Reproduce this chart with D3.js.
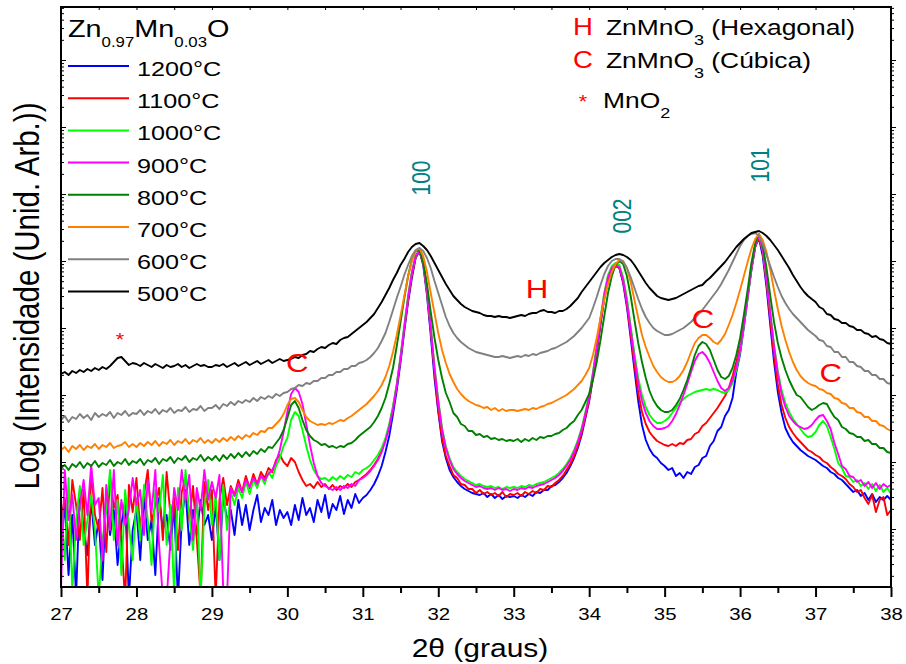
<!DOCTYPE html>
<html>
<head>
<meta charset="utf-8">
<script src="https://cdn.jsdelivr.net/npm/d3@7"></script>
<style>
  body { margin: 0; background: #fff; }
  svg { display: block; }
  text { font-family: 'Liberation Sans', Arial, sans-serif; }
</style>
</head>
<body>
<svg id="chart" width="906" height="664"></svg>
<script>
// 2θ sampling grid (degrees), 0.05° step from 27 to 38
const twoTheta = d3.range(221).map(i => +(27 + i * 0.05).toFixed(2));

// Log intensity (arbitrary units) for each calcination temperature
const s1200 = [
0.47,0.82,0.12,0.72,-0.09,0.97,0.57,0.32,0.87,0.42,0.67,0.07,0.92,0.52,0.77,0.22,0.62,0.87,-0.11,0.57,
0.77,0.27,0.92,0.47,0.67,0.12,0.89,0.57,0.72,0.37,0.82,-0.13,0.67,0.97,0.42,0.77,0.52,0.87,0.62,0.72,
0.47,0.82,0.27,0.92,0.67,0.77,0.52,0.87,0.62,0.82,0.57,0.77,0.92,0.65,0.79,0.72,0.87,0.62,0.77,0.69,
0.75,0.62,0.82,0.67,0.89,0.72,0.79,0.65,0.87,0.75,0.92,0.69,0.83,0.77,0.91,0.73,0.87,0.79,0.93,0.84,
0.89,0.92,0.97,1.03,1.11,1.21,1.35,1.51,1.73,1.97,2.25,2.56,2.85,3.09,3.29,3.36,3.22,2.92,2.52,2.09,
1.75,1.46,1.29,1.17,1.10,1.05,1.01,0.98,0.96,0.94,0.93,0.92,0.94,0.90,0.93,0.89,0.92,0.88,0.91,0.90,
0.91,0.89,0.92,0.90,0.93,0.91,0.95,0.94,0.97,0.97,1.01,1.02,1.05,1.09,1.14,1.21,1.29,1.39,1.52,1.69,
1.86,2.09,2.35,2.63,2.89,3.07,3.17,3.21,3.19,3.04,2.80,2.49,2.17,1.86,1.62,1.47,1.38,1.32,1.29,1.24,
1.21,1.17,1.19,1.11,1.14,1.09,1.15,1.13,1.20,1.22,1.29,1.31,1.41,1.46,1.56,1.60,1.71,1.77,1.89,2.15,
2.33,2.60,2.89,3.17,3.40,3.49,3.31,3.00,2.62,2.25,1.95,1.74,1.59,1.51,1.45,1.41,1.37,1.34,1.31,1.29,
1.27,1.24,1.21,1.19,1.15,1.13,1.09,1.07,1.03,0.99,0.95,0.97,0.91,0.94,0.87,0.93,0.85,0.90,0.87,0.91,
0.87];

const s1100 = [
0.67,0.89,0.42,1.07,0.82,0.47,0.97,-0.11,1.17,0.72,0.57,0.99,0.35,1.12,0.79,0.92,0.47,-0.13,1.02,0.75,
1.09,0.57,0.92,1.17,0.65,0.82,0.99,0.47,1.15,0.72,0.89,0.37,0.95,1.09,0.67,1.01,0.47,-0.09,1.05,0.77,
0.97,-0.11,0.87,1.09,0.82,1.01,0.92,1.07,0.95,1.11,0.99,1.13,1.03,1.15,1.09,1.19,1.15,1.27,1.32,1.25,
1.21,1.29,1.25,1.15,1.07,1.01,1.03,0.99,1.05,1.00,1.03,0.98,1.02,0.97,1.01,0.99,1.03,1.00,1.05,1.07,
1.10,1.13,1.17,1.22,1.28,1.36,1.47,1.61,1.79,2.02,2.29,2.59,2.87,3.12,3.30,3.36,3.24,2.95,2.57,2.15,
1.77,1.49,1.31,1.21,1.12,1.09,1.03,1.02,0.98,0.98,0.94,0.97,0.93,0.95,0.92,0.94,0.91,0.95,0.90,0.93,
0.92,0.94,0.91,0.95,0.93,0.96,0.94,0.98,0.97,1.01,1.00,1.04,1.07,1.11,1.17,1.23,1.31,1.41,1.54,1.70,
1.87,2.10,2.36,2.64,2.89,3.07,3.17,3.21,3.19,3.06,2.83,2.53,2.22,1.94,1.75,1.63,1.55,1.50,1.46,1.44,
1.42,1.41,1.43,1.41,1.44,1.43,1.47,1.48,1.53,1.55,1.61,1.64,1.69,1.74,1.79,1.85,1.91,1.99,2.11,2.25,
2.41,2.65,2.91,3.18,3.40,3.50,3.35,3.04,2.67,2.31,2.02,1.82,1.69,1.60,1.54,1.49,1.45,1.41,1.37,1.35,
1.32,1.30,1.26,1.24,1.20,1.17,1.13,1.11,1.08,1.03,1.00,0.95,0.97,0.89,0.83,0.92,0.75,0.87,0.90,0.72,
0.77];

const s1000 = [
0.82,0.27,1.09,-0.05,0.67,1.01,0.42,0.67,0.92,0.57,-0.11,0.47,0.77,1.17,0.47,0.87,0.12,0.97,0.62,0.27,
0.89,0.47,1.02,0.67,0.22,0.97,0.75,1.12,0.42,0.82,-0.08,0.99,0.57,1.17,0.72,0.37,0.95,-0.13,0.79,1.07,
0.62,0.92,0.27,1.02,0.57,0.95,0.82,0.99,0.89,1.05,0.93,1.07,0.99,1.11,1.03,1.15,1.09,1.21,1.29,1.41,
1.49,1.67,1.75,1.71,1.57,1.41,1.27,1.17,1.11,1.08,1.09,1.06,1.10,1.07,1.11,1.08,1.12,1.10,1.15,1.13,
1.17,1.19,1.22,1.27,1.32,1.39,1.49,1.63,1.81,2.03,2.31,2.62,2.91,3.15,3.31,3.37,3.25,2.97,2.61,2.21,
1.87,1.59,1.41,1.29,1.20,1.15,1.11,1.08,1.06,1.04,1.02,1.03,1.01,1.00,1.01,0.99,1.00,0.98,1.00,0.99,
1.00,0.99,1.01,1.00,1.02,1.01,1.03,1.04,1.05,1.07,1.09,1.11,1.14,1.18,1.23,1.29,1.37,1.47,1.59,1.75,
1.92,2.15,2.41,2.69,2.94,3.12,3.21,3.24,3.22,3.10,2.89,2.61,2.33,2.09,1.92,1.80,1.72,1.67,1.64,1.64,
1.66,1.69,1.74,1.79,1.84,1.88,1.91,1.93,1.95,1.96,1.97,1.98,1.97,1.98,1.97,1.95,1.94,1.97,2.04,2.17,
2.35,2.61,2.89,3.19,3.41,3.52,3.37,3.09,2.75,2.42,2.16,1.97,1.84,1.75,1.68,1.63,1.58,1.53,1.50,1.51,
1.55,1.62,1.66,1.61,1.50,1.38,1.24,1.19,1.11,1.10,1.05,1.07,1.01,1.04,0.98,1.03,0.96,1.02,0.95,0.99,
0.93];

const s900 = [
-0.01,1.17,0.67,0.92,0.47,0.82,1.07,0.72,1.22,0.82,0.89,0.27,1.02,0.57,1.17,0.42,0.87,0.62,0.77,1.09,
0.82,0.97,0.52,1.07,0.75,1.17,0.42,-0.11,-0.13,0.47,0.99,0.77,1.17,0.87,1.12,0.47,0.99,0.77,1.17,0.87,
1.05,0.89,1.12,-0.03,-0.13,0.99,0.91,1.03,0.95,1.07,1.00,1.09,1.03,1.11,1.07,1.13,1.17,1.25,1.37,1.55,
1.75,1.93,1.99,1.95,1.83,1.63,1.42,1.24,1.11,1.04,1.01,0.99,0.97,1.00,0.97,1.01,0.99,1.03,1.01,1.07,
1.09,1.12,1.16,1.21,1.27,1.35,1.46,1.60,1.78,2.01,2.29,2.60,2.90,3.14,3.31,3.37,3.25,2.97,2.59,2.19,
1.85,1.57,1.39,1.27,1.18,1.13,1.09,1.06,1.04,1.02,1.00,1.01,0.99,0.98,0.99,0.97,0.99,0.97,0.98,0.96,
0.98,0.97,0.99,0.98,1.00,0.99,1.01,1.02,1.03,1.05,1.07,1.09,1.12,1.16,1.21,1.27,1.35,1.45,1.57,1.73,
1.90,2.13,2.39,2.67,2.92,3.10,3.19,3.22,3.20,3.07,2.85,2.57,2.29,2.04,1.86,1.74,1.66,1.61,1.58,1.58,
1.59,1.61,1.66,1.73,1.82,1.92,2.03,2.15,2.26,2.33,2.35,2.31,2.24,2.15,2.06,1.99,1.96,1.99,2.07,2.20,
2.37,2.62,2.90,3.19,3.41,3.52,3.37,3.09,2.74,2.40,2.13,1.93,1.80,1.71,1.66,1.62,1.60,1.58,1.59,1.62,
1.67,1.71,1.72,1.66,1.58,1.44,1.33,1.21,1.18,1.11,1.10,1.05,1.07,1.01,1.05,0.99,1.04,0.98,1.03,1.00,
1.02];

const s800 = [
1.19,1.22,1.17,1.23,1.20,1.25,1.19,1.24,1.21,1.26,1.20,1.24,1.22,1.27,1.21,1.25,1.23,1.28,1.22,1.26,
1.24,1.28,1.22,1.27,1.25,1.29,1.23,1.28,1.26,1.30,1.24,1.29,1.27,1.31,1.25,1.29,1.27,1.32,1.26,1.30,
1.27,1.31,1.26,1.32,1.28,1.33,1.29,1.34,1.30,1.35,1.31,1.36,1.33,1.38,1.35,1.40,1.39,1.44,1.49,1.57,
1.69,1.82,1.86,1.79,1.67,1.57,1.51,1.47,1.45,1.42,1.43,1.40,1.41,1.39,1.41,1.40,1.43,1.44,1.47,1.51,
1.54,1.57,1.60,1.65,1.71,1.79,1.89,2.03,2.19,2.41,2.65,2.89,3.11,3.27,3.36,3.37,3.25,3.03,2.75,2.49,
2.27,2.09,1.94,1.85,1.74,1.70,1.63,1.61,1.56,1.56,1.52,1.53,1.50,1.51,1.48,1.49,1.47,1.48,1.46,1.47,
1.46,1.48,1.45,1.48,1.46,1.49,1.47,1.50,1.49,1.51,1.51,1.53,1.54,1.57,1.59,1.63,1.66,1.72,1.77,1.85,
1.93,2.07,2.25,2.47,2.71,2.94,3.11,3.22,3.26,3.23,3.11,2.91,2.67,2.44,2.25,2.09,1.96,1.87,1.81,1.77,
1.75,1.75,1.77,1.82,1.88,1.97,2.07,2.19,2.32,2.41,2.45,2.43,2.37,2.27,2.17,2.10,2.08,2.11,2.19,2.32,
2.49,2.72,2.97,3.24,3.44,3.53,3.42,3.19,2.91,2.65,2.44,2.29,2.17,2.07,1.99,1.92,1.90,1.85,1.80,1.77,
1.79,1.82,1.84,1.83,1.76,1.70,1.67,1.60,1.58,1.54,1.53,1.50,1.50,1.46,1.47,1.43,1.43,1.39,1.39,1.35,
1.34];

const s700 = [
1.37,1.40,1.35,1.41,1.38,1.42,1.37,1.41,1.39,1.43,1.38,1.42,1.40,1.44,1.39,1.41,1.42,1.45,1.40,1.43,
1.40,1.44,1.41,1.45,1.42,1.46,1.41,1.45,1.43,1.47,1.42,1.46,1.44,1.48,1.43,1.47,1.45,1.49,1.44,1.47,
1.44,1.48,1.45,1.49,1.46,1.50,1.47,1.51,1.48,1.52,1.50,1.54,1.52,1.56,1.55,1.59,1.59,1.63,1.67,1.73,
1.82,1.88,1.89,1.85,1.77,1.70,1.66,1.64,1.62,1.63,1.62,1.64,1.63,1.65,1.67,1.66,1.69,1.71,1.74,1.77,
1.80,1.83,1.87,1.91,1.96,2.02,2.10,2.21,2.35,2.52,2.71,2.91,3.11,3.26,3.36,3.39,3.31,3.15,2.94,2.74,
2.54,2.37,2.24,2.13,2.05,1.98,1.93,1.89,1.86,1.84,1.82,1.81,1.79,1.80,1.77,1.79,1.76,1.78,1.76,1.77,
1.77,1.76,1.77,1.78,1.77,1.79,1.78,1.80,1.81,1.83,1.84,1.86,1.88,1.90,1.92,1.95,1.98,2.02,2.06,2.12,
2.19,2.32,2.49,2.69,2.87,3.03,3.15,3.23,3.27,3.26,3.19,3.05,2.87,2.69,2.52,2.40,2.30,2.21,2.15,2.10,
2.07,2.05,2.05,2.07,2.11,2.17,2.25,2.35,2.44,2.49,2.52,2.52,2.49,2.45,2.43,2.47,2.53,2.62,2.72,2.84,
2.97,3.11,3.25,3.38,3.48,3.53,3.47,3.35,3.17,2.97,2.78,2.61,2.47,2.35,2.25,2.17,2.11,2.07,2.04,2.02,
2.01,1.98,1.97,1.94,1.93,1.89,1.88,1.84,1.83,1.79,1.79,1.75,1.74,1.70,1.70,1.66,1.66,1.62,1.61,1.58,
1.56];

const s600 = [
1.67,1.71,1.65,1.70,1.68,1.73,1.69,1.72,1.67,1.74,1.70,1.73,1.71,1.75,1.69,1.74,1.72,1.76,1.71,1.74,
1.73,1.77,1.72,1.76,1.74,1.78,1.73,1.77,1.75,1.79,1.74,1.77,1.76,1.80,1.75,1.78,1.77,1.81,1.76,1.79,
1.79,1.82,1.78,1.83,1.81,1.85,1.82,1.86,1.84,1.87,1.85,1.89,1.86,1.90,1.88,1.91,1.89,1.93,1.91,1.94,
1.95,1.98,1.99,2.02,2.01,2.04,2.03,2.06,2.06,2.09,2.09,2.12,2.12,2.15,2.15,2.18,2.18,2.21,2.21,2.24,
2.25,2.27,2.30,2.34,2.39,2.46,2.54,2.65,2.77,2.89,3.00,3.12,3.22,3.31,3.37,3.39,3.36,3.29,3.19,3.06,
2.94,2.82,2.70,2.61,2.54,2.49,2.45,2.42,2.39,2.37,2.35,2.34,2.33,2.32,2.31,2.30,2.30,2.31,2.30,2.29,
2.30,2.31,2.30,2.32,2.31,2.33,2.32,2.34,2.35,2.36,2.38,2.39,2.41,2.43,2.45,2.48,2.51,2.55,2.59,2.64,
2.69,2.79,2.90,3.02,3.13,3.21,3.26,3.28,3.28,3.25,3.19,3.10,2.99,2.88,2.78,2.70,2.64,2.59,2.56,2.54,
2.52,2.52,2.53,2.55,2.57,2.59,2.62,2.65,2.69,2.73,2.77,2.82,2.87,2.92,2.97,3.03,3.10,3.17,3.25,3.33,
3.41,3.47,3.51,3.53,3.54,3.51,3.43,3.32,3.21,3.10,3.00,2.91,2.84,2.78,2.73,2.69,2.65,2.61,2.57,2.54,
2.51,2.47,2.46,2.41,2.40,2.35,2.35,2.30,2.30,2.25,2.25,2.21,2.20,2.16,2.16,2.12,2.12,2.08,2.08,2.04,
2.03];

const s500 = [
2.13,2.15,2.12,2.16,2.14,2.17,2.15,2.18,2.16,2.19,2.17,2.20,2.18,2.21,2.25,2.29,2.30,2.26,2.22,2.24,
2.23,2.21,2.24,2.22,2.20,2.23,2.21,2.19,2.22,2.20,2.21,2.23,2.20,2.22,2.19,2.21,2.23,2.21,2.22,2.20,
2.20,2.22,2.21,2.23,2.20,2.22,2.24,2.21,2.23,2.25,2.22,2.24,2.26,2.23,2.25,2.27,2.24,2.26,2.28,2.26,
2.27,2.28,2.30,2.29,2.32,2.33,2.36,2.35,2.38,2.40,2.39,2.42,2.44,2.43,2.47,2.49,2.50,2.53,2.56,2.59,
2.62,2.65,2.69,2.73,2.79,2.85,2.92,2.99,3.07,3.14,3.22,3.28,3.35,3.40,3.43,3.44,3.41,3.37,3.31,3.24,
3.17,3.10,3.03,2.97,2.91,2.87,2.83,2.80,2.78,2.76,2.75,2.74,2.72,2.71,2.71,2.70,2.71,2.70,2.70,2.69,
2.70,2.71,2.72,2.71,2.73,2.74,2.74,2.76,2.77,2.75,2.75,2.74,2.76,2.76,2.78,2.81,2.85,2.89,2.95,3.00,
3.05,3.10,3.15,3.20,3.24,3.27,3.30,3.32,3.33,3.32,3.30,3.27,3.22,3.16,3.10,3.04,2.99,2.95,2.91,2.89,
2.88,2.87,2.88,2.89,2.91,2.93,2.95,2.97,2.99,3.01,3.02,3.06,3.09,3.13,3.17,3.21,3.25,3.30,3.35,3.40,
3.44,3.48,3.51,3.54,3.55,3.56,3.54,3.51,3.47,3.42,3.37,3.31,3.25,3.19,3.12,3.06,3.00,2.95,2.91,2.88,
2.85,2.80,2.78,2.73,2.72,2.68,2.67,2.64,2.64,2.61,2.60,2.57,2.57,2.54,2.53,2.50,2.51,2.48,2.47,2.44,
2.43];

const temperatures = ['1200°C', '1100°C', '1000°C', '900°C', '800°C', '700°C', '600°C', '500°C'];
const colors = ['#0000ff', '#ff0000', '#00ff00', '#ff00ff', '#008000', '#ff8000', '#808080', '#000000'];
const seriesValues = [s1200, s1100, s1000, s900, s800, s700, s600, s500];

// Miller indices of the wurtzite ZnO reflections (label centre position)
const reflections = [
  { hkl: '100', angle: 31.77, level: 4.09 },
  { hkl: '002', angle: 34.44, level: 3.71 },
  { hkl: '101', angle: 36.26, level: 4.22 }
];
// Secondary phase markers (text baseline position)
const phaseMarks = [
  { mark: 'C', angle: 30.13, level: 2.15 },
  { mark: 'C', angle: 35.51, level: 2.59 },
  { mark: 'C', angle: 37.20, level: 2.05 },
  { mark: 'H', angle: 33.31, level: 2.89 },
  { mark: '*', angle: 27.78, level: 2.41 }
];

const M = { left: 61, right: 891, top: 7, bottom: 587 };
const xDomain = [27, 38];
const yDomain = [0, 5.80];
const xTicks = d3.range(27, 39);
const xMinorTicks = d3.range(27.5, 38, 1);
// Intensity decades on the log axis: spacing and position of the first one, in plotted units
const decadeStep = 0.67;
const decadeOrigin = 0.58;

const svg = d3.select('#chart');
const x = d3.scaleLinear().domain(xDomain).range([M.left, M.right]);
const y = d3.scaleLinear().domain(yDomain).range([M.bottom, M.top]);

const STRETCH = 'scale(1.2,1)';
const font = "'Liberation Sans', Arial, sans-serif";

svg.append('defs').append('clipPath').attr('id', 'plotClip')
  .append('rect').attr('x', M.left).attr('y', M.top)
  .attr('width', M.right - M.left).attr('height', M.bottom - M.top);

// Data curves, 1200°C first so 500°C ends on top
const line = d3.line().x((d, i) => x(twoTheta[i])).y(d => y(d));
const curves = svg.append('g').attr('clip-path', 'url(#plotClip)');
seriesValues.forEach((vals, k) => {
  curves.append('path').datum(vals)
    .attr('fill', 'none').attr('stroke', colors[k])
    .attr('stroke-width', 1.9).attr('stroke-linejoin', 'round')
    .attr('d', line);
});

// Axes
const bottomAxis = d3.axisBottom(x).tickValues(xTicks).tickSize(10).tickPadding(11).tickFormat(d3.format('d'));
const gB = svg.append('g').attr('transform', `translate(0,${M.bottom})`).call(bottomAxis);
gB.select('.domain').remove();
gB.selectAll('line').attr('stroke', '#000').attr('stroke-width', 2);
gB.selectAll('text').attr('font-size', 17).attr('font-family', font).attr('fill', '#000')
  .attr('transform', STRETCH);

const gBm = svg.append('g').attr('transform', `translate(0,${M.bottom})`)
  .call(d3.axisBottom(x).tickValues(xMinorTicks).tickSize(6).tickFormat(''));
gBm.select('.domain').remove();
gBm.selectAll('line').attr('stroke', '#000').attr('stroke-width', 2);

const gT = svg.append('g').attr('transform', `translate(0,${M.top})`)
  .call(d3.axisTop(x).tickValues(d3.range(27, 38.01, 0.5)).tickSize(-3).tickFormat(''));
gT.select('.domain').remove();
gT.selectAll('line').attr('stroke', '#000').attr('stroke-width', 1);

// Logarithmic minor ticks (k · 10^n) on both intensity axes
const logTicks = [];
for (let n = -1; n <= 9; n++) {
  for (let k = 1; k <= 9; k++) {
    const v = decadeOrigin + decadeStep * (n + Math.log10(k));
    if (v >= yDomain[0] && v <= yDomain[1]) logTicks.push({ v, major: k === 1 });
  }
}
[[d3.axisRight, M.left], [d3.axisRight, M.right]].forEach(([ax, pos]) => {
  [true, false].forEach(major => {
    const g = svg.append('g').attr('transform', `translate(${pos},0)`)
      .call(ax(y).tickValues(logTicks.filter(t => t.major === major).map(t => t.v))
        .tickSize(major ? 5 : 3).tickFormat(''));
    g.select('.domain').remove();
    g.selectAll('line').attr('stroke', '#000').attr('stroke-width', 1);
  });
});

// Frame
svg.append('rect').attr('x', M.left).attr('y', M.top)
  .attr('width', M.right - M.left).attr('height', M.bottom - M.top)
  .attr('fill', 'none').attr('stroke', '#000').attr('stroke-width', 2);

// Text helper: horizontally widened glyphs
function txt(px, py, size, fill, anchor, rotate) {
  return svg.append('text')
    .attr('transform', `translate(${px},${py}) ${STRETCH}${rotate ? ' rotate(-90)' : ''}`)
    .attr('font-size', size).attr('fill', fill).attr('text-anchor', anchor || 'start');
}

// Axis titles
txt(480, 657, 25, '#000', 'middle').text('2θ (graus)');
txt(39, 296, 29.5, '#000', 'middle', true).text('Log (Intensidade (Unid. Arb.))');

// Reflection labels
reflections.forEach(r => {
  txt(x(r.angle) + 9, y(r.level), 21, '#008080', 'middle', true).text(r.hkl);
});

// Phase markers
phaseMarks.forEach(p => {
  const size = p.mark === '*' ? 18 : 26;
  txt(x(p.angle), y(p.level), size, '#ff0000', 'middle').text(p.mark);
});

// Temperature legend
const lg = txt(68, 37, 24, '#000', 'start');
lg.append('tspan').text('Zn');
lg.append('tspan').attr('font-size', 14).attr('dy', 10).text('0.97');
lg.append('tspan').attr('dy', -10).text('Mn');
lg.append('tspan').attr('font-size', 14).attr('dy', 10).text('0.03');
lg.append('tspan').attr('dy', -10).text('O');

temperatures.forEach((t, i) => {
  const yy = 66 + i * 32.2;
  svg.append('line').attr('x1', 68).attr('x2', 129).attr('y1', yy).attr('y2', yy)
    .attr('stroke', colors[i]).attr('stroke-width', 2);
  txt(137, yy + 10, 21, '#000', 'start').text(t);
});

// Phase legend
const phaseLegend = [
  { mark: 'H', formula: 'ZnMnO', sub: '3', rest: ' (Hexagonal)', base: 35 },
  { mark: 'C', formula: 'ZnMnO', sub: '3', rest: ' (Cúbica)', base: 68 },
  { mark: '*', formula: 'MnO', sub: '2', rest: '', base: 108 }
];
phaseLegend.forEach(p => {
  if (p.mark === '*') {
    txt(583, p.base, 18, '#ff0000', 'middle').text('*');
  } else {
    txt(573, p.base, 23, '#ff0000', 'start').text(p.mark);
  }
  const t = txt(p.mark === '*' ? 603 : 606, p.base, 22, '#000', 'start');
  t.append('tspan').text(p.formula);
  t.append('tspan').attr('font-size', 15).attr('dy', 10).text(p.sub);
  if (p.rest) t.append('tspan').attr('dy', -10).text(p.rest);
});
</script>
</body>
</html>
